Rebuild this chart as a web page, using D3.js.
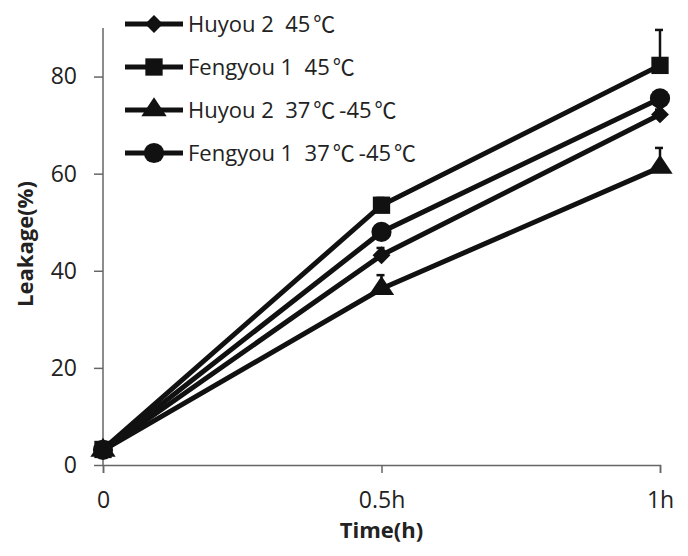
<!DOCTYPE html>
<html lang="en">
<head>
  <meta charset="UTF-8">
  <title>Leakage</title>
  <script src="https://cdn.jsdelivr.net/npm/d3@7"></script>
  <style>
    * { margin: 0; padding: 0; }
    body { background: #fff; }
    svg { display: block; }
    text { font-family: "Open Sans", "Noto Sans", sans-serif; fill: #222; white-space: pre; }
    .deg { font-family: "Noto Sans CJK SC", sans-serif; letter-spacing: 4px; }
  </style>
</head>
<body>
  <div id="chart"></div>
  <script>
  // data
  var times = ["0", "0.5h", "1h"];
  var seriesNames = ["Huyou 2  45℃", "Fengyou 1  45℃", "Huyou 2  37℃-45℃", "Fengyou 1  37℃-45℃"];
  var huyou45 = [3.0, 43.2, 72.2];
  var fengyou45 = [3.2, 53.5, 82.3];
  var huyou3745 = [3.0, 36.3, 61.3];
  var fengyou3745 = [3.1, 48.0, 75.5];
  // upper error bars
  var huyou45Err = [0.5, 1.5, 1.0];
  var fengyou45Err = [0.5, 1.5, 7.3];
  var huyou3745Err = [0.5, 2.8, 4.0];
  var fengyou3745Err = [0.5, 1.5, 1.0];
  var yTicks = [0, 20, 40, 60, 80];

  var width = 688, height = 556;
  var margin = {left: 103, right: 28, top: 28, bottom: 91};

  var svg = d3.select("#chart").append("svg")
      .attr("width", width)
      .attr("height", height);

  var x = d3.scalePoint().domain(times).range([margin.left, width - margin.right]);
  var y = d3.scaleLinear().domain([0, 90]).range([height - margin.bottom, margin.top]);

  // diamond = rotated square
  var series = [
    {name: seriesNames[0], values: huyou45, err: huyou45Err, symbol: d3.symbolSquare, size: 160, rot: 45, sx: 1},
    {name: seriesNames[1], values: fengyou45, err: fengyou45Err, symbol: d3.symbolSquare, size: 300, rot: 0, sx: 1},
    {name: seriesNames[2], values: huyou3745, err: huyou3745Err, symbol: d3.symbolTriangle, size: 210, rot: 0, sx: 1.15},
    {name: seriesNames[3], values: fengyou3745, err: fengyou3745Err, symbol: d3.symbolCircle, size: 320, rot: 0, sx: 1}
  ];
  function symTransform(s, cx, cy) {
    return "translate(" + cx + "," + cy + ") rotate(" + s.rot + ") scale(" + s.sx + ",1)";
  }

  // axes
  svg.append("g")
      .attr("transform", "translate(0," + y(0) + ")")
      .call(d3.axisBottom(x).tickSizeOuter(0).tickSize(8).tickPadding(19));
  var yAxis = svg.append("g")
      .attr("transform", "translate(" + margin.left + ",0)")
      .call(d3.axisLeft(y).tickValues(yTicks).tickSizeOuter(0).tickSize(9).tickPadding(17));
  yAxis.select(".domain").attr("d", "M0," + y(0) + "V" + y(90));
  svg.selectAll(".domain, .tick line").attr("stroke", "#666").attr("stroke-width", 1.5);
  svg.selectAll(".tick text").style("font-size", "23px").attr("fill", "#222");

  // error bars
  var errG = svg.append("g");
  series.forEach(function (s) {
    s.values.forEach(function (v, i) {
      var cx = x(times[i]), top = y(v + s.err[i]);
      errG.append("line").attr("x1", cx).attr("x2", cx)
        .attr("y1", y(v)).attr("y2", top)
        .attr("stroke", "#111").attr("stroke-width", 2.5);
      errG.append("line").attr("x1", cx - 5).attr("x2", cx + 3)
        .attr("y1", top).attr("y2", top)
        .attr("stroke", "#111").attr("stroke-width", 2.5);
    });
  });

  // lines
  var line = d3.line()
      .x(function (d, i) { return x(times[i]); })
      .y(function (d) { return y(d); });

  svg.selectAll(".series-line")
    .data(series)
    .enter()
    .append("path")
      .attr("class", "series-line")
      .attr("fill", "none")
      .attr("stroke", "#111")
      .attr("stroke-width", 5)
      .attr("d", function (d) { return line(d.values); });

  // markers
  series.forEach(function (s) {
    svg.selectAll(null)
      .data(s.values)
      .enter()
      .append("path")
        .attr("fill", "#111")
        .attr("transform", function (d, i) { return symTransform(s, x(times[i]), y(d)); })
        .attr("d", d3.symbol().type(s.symbol).size(s.size));
  });

  // legend
  var legend = svg.selectAll(".legend")
      .data(series)
      .enter()
      .append("g")
        .attr("class", "legend")
        .attr("transform", function (d, i) { return "translate(125," + (24 + i * 43) + ")"; });
  legend.append("line")
      .attr("x1", 0).attr("x2", 58)
      .attr("stroke", "#111").attr("stroke-width", 5);
  legend.append("path")
      .attr("fill", "#111")
      .attr("transform", function (d) { return symTransform(d, 29, 0); })
      .attr("d", function (d) { return d3.symbol().type(d.symbol).size(d.size)(); });
  var ltext = legend.append("text")
      .attr("x", 63)
      .attr("dy", "0.36em")
      .style("font-size", "22px");
  ltext.each(function (d) {
    var t = d3.select(this);
    d.name.split(/(℃)/).forEach(function (part) {
      if (!part) return;
      var sp = t.append("tspan").text(part);
      if (part === "℃") sp.attr("class", "deg").attr("dx", 3);
    });
  });

  // axis titles
  svg.append("text")
      .attr("x", x("0.5h"))
      .attr("y", 538)
      .attr("text-anchor", "middle")
      .style("font-size", "22px")
      .style("font-weight", "bold")
      .text("Time(h)");
  svg.append("text")
      .attr("transform", "translate(33,244) rotate(-90)")
      .attr("text-anchor", "middle")
      .style("font-size", "22px")
      .style("font-weight", "bold")
      .text("Leakage(%)");
  </script>
</body>
</html>
